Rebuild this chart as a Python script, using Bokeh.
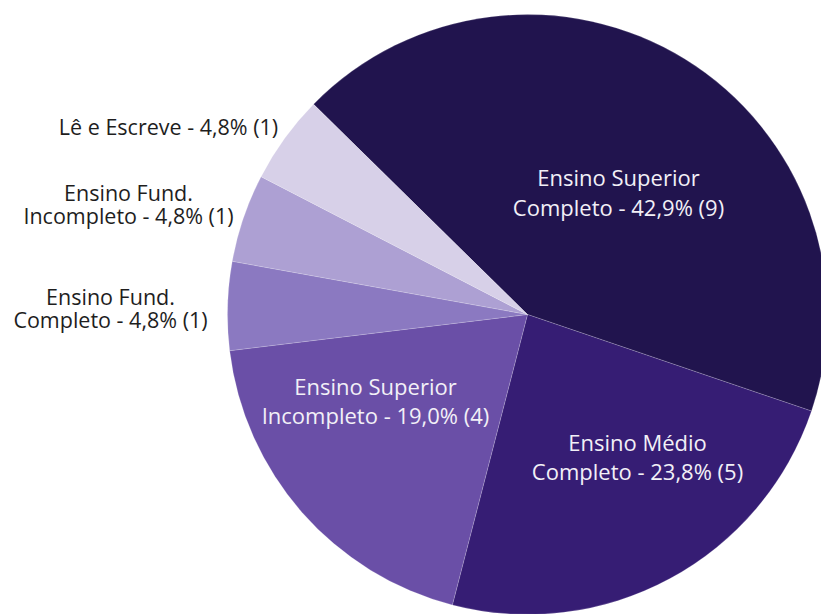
import math
from bokeh.plotting import figure
from bokeh.models import Range1d, ColumnDataSource
from bokeh.core.properties import value
from bokeh.embed import file_html
from bokeh.resources import INLINE

categories = ["Ensino Superior Completo", "Ensino Médio Completo", "Ensino Superior Incompleto",
              "Ensino Fund. Completo", "Ensino Fund. Incompleto", "Lê e Escreve"]
counts = [9, 5, 4, 1, 1, 1]
percent_labels = ["42,9%", "23,8%", "19,0%", "4,8%", "4,8%", "4,8%"]
label_line1 = ["Ensino Superior", "Ensino Médio", "Ensino Superior", "Ensino Fund.", "Ensino Fund.", ""]
label_line2 = ["Completo", "Completo", "Incompleto", "Completo", "Incompleto", "Lê e Escreve"]
colors = ["#21144e", "#361d74", "#6a4fa7", "#8b79c1", "#ada0d3", "#d7d0e8"]

W, H = 821, 614
p = figure(width=W, height=H, output_backend="svg", toolbar_location=None,
           x_range=Range1d(0, W), y_range=Range1d(614 - H, 614),
           min_border=0, background_fill_color="white", border_fill_color="white")
p.axis.visible = False
p.grid.visible = False
p.outline_line_color = None

cx, cy, r = 527, 614 - 314, 300
total = sum(counts)
start0 = 135.5
starts, ends = [], []
cum = 0
for c in counts:
    s = start0 - cum / total * 360
    e = start0 - (cum + c) / total * 360
    starts.append(math.radians(e))
    ends.append(math.radians(s))
    cum += c

src = ColumnDataSource(dict(start=starts, end=ends, color=colors))
p.wedge(x=cx, y=cy, radius=r, start_angle="start", end_angle="end", fill_color="color",
        line_color="white", line_width=0.5, line_alpha=0.35, source=src)

font = value("Open Sans")
dy = 2
# inside labels (white)
inside = [(0, 618, 178, 208), (1, 637, 443, 472), (2, 375, 387, 416)]
for i, x, y1, y2 in inside:
    p.text(x=[x], y=[614 - y1 + dy], text=[label_line1[i]], text_color="#f2f0f7", text_font=font,
           text_font_size="22px", text_align="center", text_baseline="middle")
    p.text(x=[x], y=[614 - y2 + dy], text=[f"{label_line2[i]} - {percent_labels[i]} ({counts[i]})"],
           text_color="#f2f0f7", text_font=font, text_font_size="22px",
           text_align="center", text_baseline="middle")

outside = [(3, 110, 298, 321), (4, 128, 194, 217)]
for i, x, y1, y2 in outside:
    p.text(x=[x], y=[614 - y1 + dy], text=[label_line1[i]], text_color="#1e1e1e", text_font=font,
           text_font_size="21.5px", text_align="center", text_baseline="middle")
    p.text(x=[x], y=[614 - y2 + dy], text=[f"{label_line2[i]} - {percent_labels[i]} ({counts[i]})"],
           text_color="#1e1e1e", text_font=font, text_font_size="21.5px",
           text_align="center", text_baseline="middle")

i = 5
p.text(x=[168], y=[614 - 128 + dy], text=[f"{label_line2[i]} - {percent_labels[i]} ({counts[i]})"],
       text_color="#1e1e1e", text_font=font, text_font_size="21.5px",
       text_align="center", text_baseline="middle")

open("out.html", "w").write(file_html(p, INLINE))
